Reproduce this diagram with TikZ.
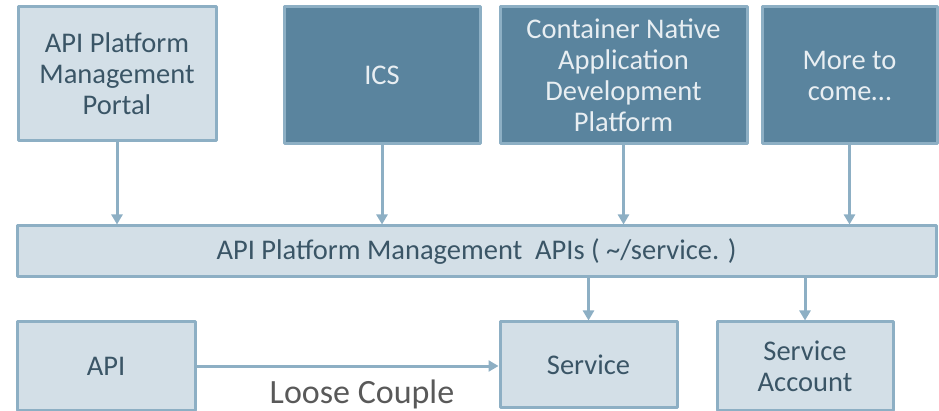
\documentclass[tikz,border=0pt]{standalone}
\usepackage{fontspec}
\setmainfont{Carlito}
\usetikzlibrary{arrows.meta}
\definecolor{lightfill}{HTML}{D3DFE7}
\definecolor{darkfill}{HTML}{5A849E}
\definecolor{edgeblue}{HTML}{8DAFC4}
\definecolor{inktext}{HTML}{3A5566}
\definecolor{paletext}{HTML}{E8EEF2}
\definecolor{graytext}{HTML}{595959}
\begin{document}
\begin{tikzpicture}[
			x=1pt, y=-1pt,
			line join=round,
			box/.style={draw=edgeblue, line width=3pt, align=center, inner sep=0pt,
				font=\fontsize{28.5}{31}\selectfont},
			lightbox/.style={box, fill=lightfill, text=inktext},
			darkbox/.style={box, fill=darkfill, text=paletext},
			link/.style={edgeblue, line width=3pt, -{Triangle[width=11pt,length=10pt]}}
			]
			\useasboundingbox (0,0) rectangle (939,411);
			% top row
			\node[lightbox, minimum width=198pt, minimum height=134pt] (portal) at (117,74)
				{API Platform\\Management\\Portal};
			\node[darkbox, minimum width=196pt, minimum height=137pt] (ics) at (382,75.5) {ICS};
			\node[darkbox, minimum width=247pt, minimum height=137pt] (cnadp) at (623.5,75.5)
				{Container Native\\Application\\Development\\Platform};
			\node[darkbox, minimum width=175pt, minimum height=137pt] (more) at (849.5,75.5)
				{More to\\come\ldots};
			% api bar
			\node[lightbox, minimum width=919pt, minimum height=51pt] (bar) at (476.5,251.5)
				{API Platform Management\ \ APIs ( \char`\~/service. )};
			% bottom row
			\node[lightbox, minimum width=178pt, minimum height=88pt] (api) at (106,366) {API};
			\node[lightbox, minimum width=177pt, minimum height=85pt] (service) at (588.5,364.5) {Service};
			\node[lightbox, minimum width=176pt, minimum height=88pt] (account) at (805,366)
				{Service\\Account};
			\node[text=graytext, inner sep=0pt, font=\fontsize{34}{40}\selectfont] (loose) at (362,394)
				{Loose Couple};
			% connectors
			\draw[link] (portal.south) -- (portal.south |- bar.north);
			\draw[link] (ics.south) -- (ics.south |- bar.north);
			\draw[link] (cnadp.south) -- (cnadp.south |- bar.north);
			\draw[link] (more.south) -- (more.south |- bar.north);
			\draw[link] (service.north |- bar.south) -- (service.north);
			\draw[link] (account.north |- bar.south) -- (account.north);
			\draw[link] (api.east) -- (api.east -| service.west);
		\end{tikzpicture}
\end{document}
